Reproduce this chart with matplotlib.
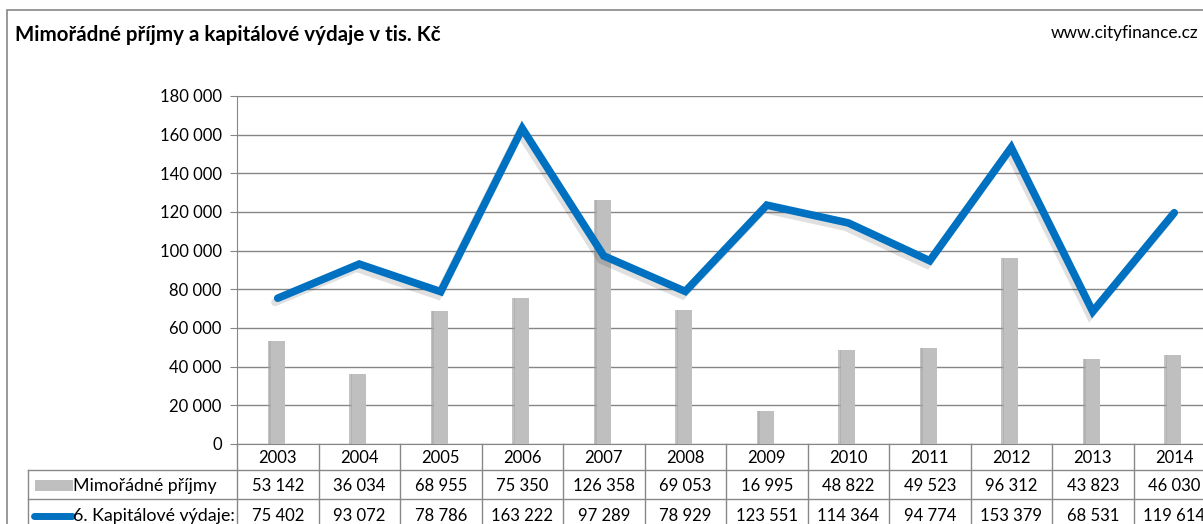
import matplotlib
matplotlib.use("Agg")
import matplotlib.pyplot as plt
import matplotlib.transforms as mtransforms
import matplotlib.patheffects as pe
from matplotlib.patches import Rectangle
from matplotlib.lines import Line2D

years = ["2003", "2004", "2005", "2006", "2007", "2008", "2009", "2010", "2011", "2012", "2013", "2014"]
mimoradne = [53142, 36034, 68955, 75350, 126358, 69053, 16995, 48822, 49523, 96312, 43823, 46030]
kapitalove = [75402, 93072, 78786, 163222, 97289, 78929, 123551, 114364, 94774, 153379, 68531, 119614]
series_names = ["Mimořádné příjmy", "6. Kapitálové výdaje:"]
title = "Mimořádné příjmy a kapitálové výdaje v tis. Kč"
source = "www.cityfinance.cz"
yticks = list(range(0, 180001, 20000))

plt.rcParams['font.family'] = ['Lato', 'DejaVu Sans']

W, H = 1203, 524
fig = plt.figure(figsize=(W / 100, H / 100), dpi=100)

def fx(px):
    return px / W

def fy(py):
    return 1 - py / H

# outer border
fig.patches.append(Rectangle((fx(7), fy(530)), fx(1300), fy(10) - fy(530), transform=fig.transFigure,
                             fill=False, edgecolor="#888888", linewidth=1.2))

left, right, top, bottom = 237, 1215, 96, 444
ax = fig.add_axes([fx(left), fy(bottom), fx(right - left), fy(top) - fy(bottom)])
n = len(years)
x = list(range(n))
ax.set_xlim(-0.5, n - 0.5)
ax.set_ylim(0, 180000)
ax.set_yticks(yticks)
ax.set_yticklabels([f"{v:,}".replace(",", " ") for v in yticks], fontsize=12)
ax.yaxis.grid(True, color="#868686", linewidth=1)
ax.set_axisbelow(True)
ax.tick_params(axis='y', length=5, color="#868686", pad=6)
ax.set_xticks([])
for s in ["top", "right"]:
    ax.spines[s].set_visible(False)
ax.spines["left"].set_color("#868686")
ax.spines["bottom"].set_color("#868686")

# soft shadow on left side of bars
ax.bar([v - 0.035 for v in x], mimoradne, width=0.17, color="#9c9c9c", alpha=0.6, zorder=2)
ax.bar([v - 0.02 for v in x], mimoradne, width=0.17, color="#a8a8a8", alpha=0.6, zorder=2)
ax.bar(x, mimoradne, width=0.17, color="#BFBFBF", zorder=3)

ax.plot(x, kapitalove, color="#0070C0", linewidth=5.5, zorder=4, solid_capstyle="round",
        solid_joinstyle="miter",
        path_effects=[pe.SimpleLineShadow(offset=(-2, -3), shadow_color="#000000", alpha=0.12), pe.Normal()])

# data table
trans = mtransforms.blended_transform_factory(ax.transData, fig.transFigure)
gc = "#888888"
r1, r2 = 470, 499
fig.add_artist(Line2D([fx(28), fx(1215)], [fy(r1), fy(r1)], color=gc, lw=1, transform=fig.transFigure))
fig.add_artist(Line2D([fx(28), fx(1215)], [fy(r2), fy(r2)], color=gc, lw=1, transform=fig.transFigure))
fig.add_artist(Line2D([fx(28), fx(28)], [fy(r1), fy(530)], color=gc, lw=1, transform=fig.transFigure))
fig.add_artist(Line2D([fx(237), fx(237)], [fy(444), fy(530)], color=gc, lw=1, transform=fig.transFigure))
for i in range(n):
    xb = i + 0.5
    fig.add_artist(Line2D([xb, xb], [fy(444), fy(530)], color=gc, lw=1, transform=trans))
fs = 12
for i in range(n):
    fig.text(i, fy(458), years[i], transform=trans, ha="center", va="center", fontsize=fs)
    fig.text(i, fy(486), f"{mimoradne[i]:,}".replace(",", " "), transform=trans, ha="center", va="center", fontsize=fs)
    fig.text(i, fy(516), f"{kapitalove[i]:,}".replace(",", " "), transform=trans, ha="center", va="center", fontsize=fs)

# row labels with legend keys
fig.patches.append(Rectangle((fx(35), fy(491)), fx(38), fy(480) - fy(491), transform=fig.transFigure,
                             facecolor="#BFBFBF", edgecolor="none"))
fig.add_artist(Line2D([fx(34), fx(72)], [fy(516), fy(516)], color="#0070C0", lw=5,
                      solid_capstyle="round", transform=fig.transFigure))
fig.text(fx(73), fy(486), series_names[0], ha="left", va="center", fontsize=12.8)
fig.text(fx(73), fy(516), series_names[1], ha="left", va="center", fontsize=12.8)

fig.text(fx(15), fy(35), title, ha="left", va="center", fontsize=14.8, fontweight="bold")
fig.text(fx(1198), fy(33), source, ha="right", va="center", fontsize=12.4)

fig.savefig("out.png", dpi=100)
